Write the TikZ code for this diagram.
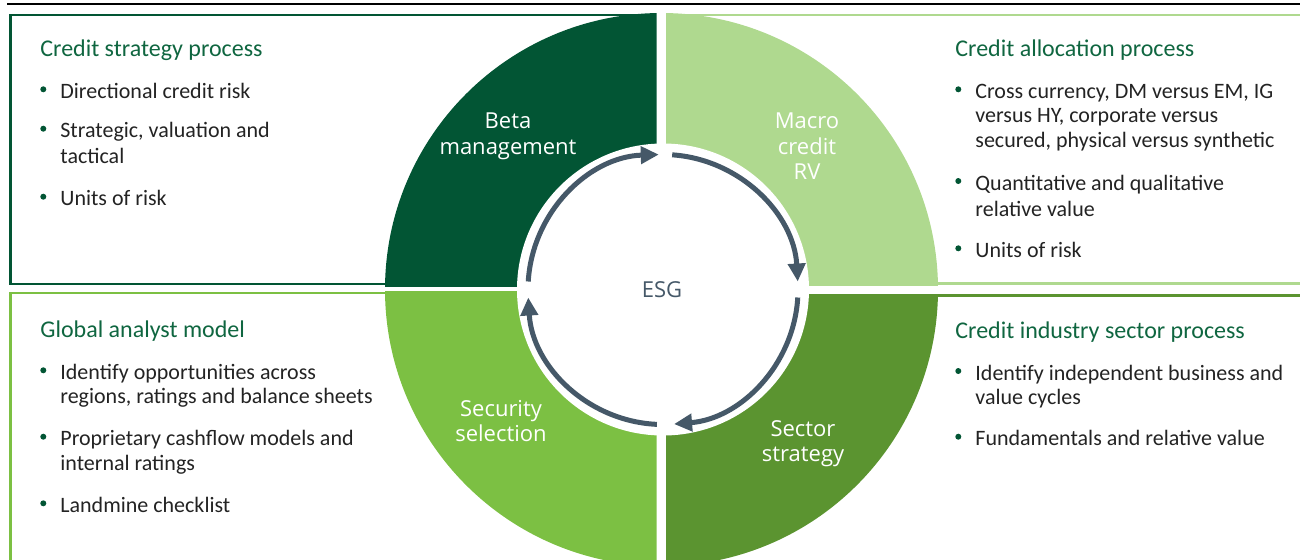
\documentclass[tikz,border=0pt]{standalone}
\usepackage{fontspec}
\setmainfont{Carlito}
\newfontfamily\wheelfont{Open Sans}
\usetikzlibrary{arrows.meta}

\definecolor{betagreen}{RGB}{2,85,52}
\definecolor{macrogreen}{RGB}{175,217,143}
\definecolor{securitygreen}{RGB}{124,192,67}
\definecolor{sectorgreen}{RGB}{91,148,48}
\definecolor{titlegreen}{RGB}{15,102,64}
\definecolor{cyclegray}{RGB}{69,88,104}
\definecolor{bodygray}{RGB}{35,35,35}

\tikzset{
  boxtitle/.style={anchor=base west, inner sep=0pt, font=\fontsize{12}{14}\selectfont, text=titlegreen},
  boxitem/.style={anchor=base west, inner sep=0pt, font=\fontsize{11}{13}\selectfont, text=bodygray},
  wheellabel/.style={anchor=base, inner sep=0pt, font=\wheelfont\fontsize{11}{13}\selectfont, text=white},
  cyclearrow/.style={line width=2.5pt, draw=cyclegray, -{Triangle[length=9pt,width=8.5pt]}},
}

\begin{document}
\begin{tikzpicture}[x=0.5pt, y=-0.5pt]
    \clip (0,0) rectangle (1300,559);
    \coordinate (hub) at (661.5,289.5);
    \coordinate (core) at (663,289.5);
    % rule on top
    \draw[line width=1.2pt] (7,4) -- (1300,4);
    % process boxes, partly under the wheel
    \draw[betagreen, line width=1.1pt] (10.5,15.3) rectangle (650,284.3);
    \draw[macrogreen, line width=1.1pt] (672,15.3) rectangle (1320,283.5);
    \draw[securitygreen, line width=1.1pt] (10.5,292.8) rectangle (650,580);
    \draw[sectorgreen, line width=1.1pt] (672,295.5) rectangle (1320,580);
    % wheel quarters
    \begin{scope}
      \clip (0,0) rectangle (656.7,286);
      \fill[betagreen] (hub) circle[radius=276.5];
    \end{scope}
    \begin{scope}
      \clip (666,0) rectangle (1300,285);
      \fill[macrogreen] (hub) circle[radius=276.5];
    \end{scope}
    \begin{scope}
      \clip (0,291.7) rectangle (656.7,559);
      \fill[securitygreen] (hub) circle[radius=276.5];
    \end{scope}
    \begin{scope}
      \clip (666,294.3) rectangle (1300,559);
      \fill[sectorgreen] (hub) circle[radius=276.5];
    \end{scope}
    \fill[white] (core) circle[radius=146];
    % cycle arrows
    \draw[cyclearrow] (core) ++(-176.6:135) arc[start angle=-176.6, end angle=-91.8, radius=135];
    \draw[cyclearrow] (core) ++(-86.1:135) arc[start angle=-86.1, end angle=-3.4, radius=135];
    \draw[cyclearrow] (core) ++(3.4:135) arc[start angle=3.4, end angle=85.3, radius=135];
    \draw[cyclearrow] (core) ++(92.6:135) arc[start angle=92.6, end angle=176.6, radius=135];
    % wheel labels
    \node[wheellabel] (beta1) at (508,128) {Beta};
    \node[wheellabel] (beta2) at (508,154) {management};
    \node[wheellabel] (macro1) at (807,128) {Macro};
    \node[wheellabel] (macro2) at (807,154) {credit};
    \node[wheellabel] (macro3) at (807,179.5) {RV};
    \node[wheellabel] (secsel1) at (501,416) {Security};
    \node[wheellabel] (secsel2) at (501,441) {selection};
    \node[wheellabel] (sector1) at (803,436) {Sector};
    \node[wheellabel] (sector2) at (803,461) {strategy};
    \node[wheellabel, text=cyclegray] (esg) at (662,297) {ESG};
    % Credit strategy process
    \node[boxtitle] (cstitle) at (40,56.7) {Credit strategy process};
    \fill[betagreen] (43.3,89.3) circle[radius=3];
    \node[boxitem] (cs1) at (60,98.3) {Directional credit risk};
    \fill[betagreen] (43.3,128.7) circle[radius=3];
    \node[boxitem] (cs2a) at (60,137.7) {Strategic, valuation and};
    \node[boxitem] (cs2b) at (60,163.3) {tactical};
    \fill[betagreen] (43.3,196.7) circle[radius=3];
    \node[boxitem] (cs3) at (60,205.7) {Units of risk};
    % Credit allocation process
    \node[boxtitle] (catitle) at (955,56.3) {Credit allocation process};
    \fill[betagreen] (958.3,89.3) circle[radius=3];
    \node[boxitem] (ca1a) at (975,98.3) {Cross currency, DM versus EM, IG};
    \node[boxitem] (ca1b) at (975,122.7) {versus HY, corporate versus};
    \node[boxitem] (ca1c) at (975,147.7) {secured, physical versus synthetic};
    \fill[betagreen] (958.3,181) circle[radius=3];
    \node[boxitem] (ca2a) at (975,190) {Quantitative and qualitative};
    \node[boxitem] (ca2b) at (975,216) {relative value};
    \fill[betagreen] (958.3,248.3) circle[radius=3];
    \node[boxitem] (ca3) at (975,257.3) {Units of risk};
    % Global analyst model
    \node[boxtitle] (gatitle) at (40,337.3) {Global analyst model};
    \fill[betagreen] (43.3,370.3) circle[radius=3];
    \node[boxitem] (ga1a) at (60,379.3) {Identify opportunities across};
    \node[boxitem] (ga1b) at (60,403.3) {regions, ratings and balance sheets};
    \fill[betagreen] (43.3,436.7) circle[radius=3];
    \node[boxitem] (ga2a) at (60,445.7) {Proprietary cashflow models and};
    \node[boxitem] (ga2b) at (60,470.7) {internal ratings};
    \fill[betagreen] (43.3,503.3) circle[radius=3];
    \node[boxitem] (ga3) at (60,512.3) {Landmine checklist};
    % Credit industry sector process
    \node[boxtitle] (cititle) at (955,338.3) {Credit industry sector process};
    \fill[betagreen] (958.3,371) circle[radius=3];
    \node[boxitem] (ci1a) at (975,380) {Identify independent business and};
    \node[boxitem] (ci1b) at (975,404) {value cycles};
    \fill[betagreen] (958.3,436.7) circle[radius=3];
    \node[boxitem] (ci2) at (975,445.7) {Fundamentals and relative value};
\end{tikzpicture}
\end{document}
